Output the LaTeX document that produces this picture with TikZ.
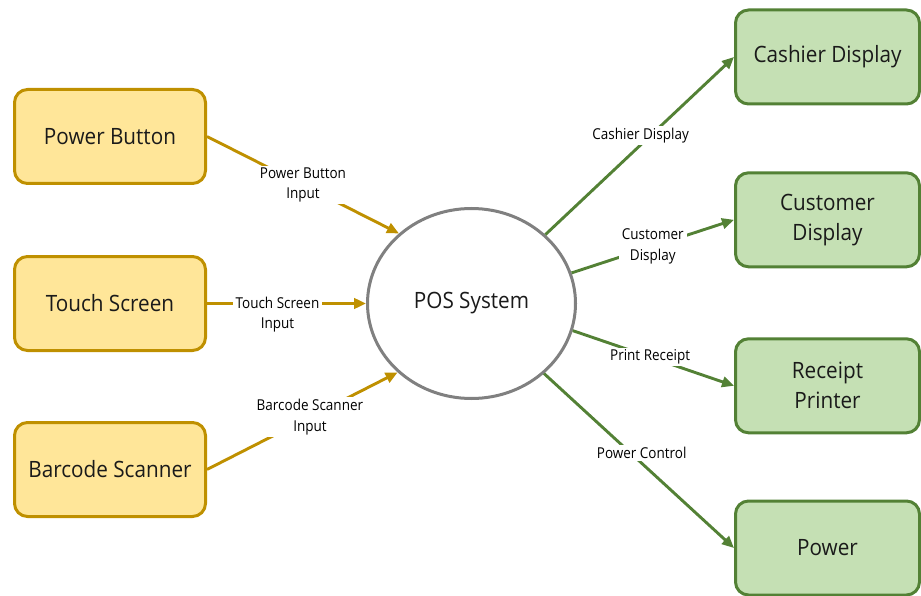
\documentclass[tikz,border=0pt]{standalone}
\usepackage{fontspec}
\setmainfont{Open Sans}
\newfontfamily\boxfont[FakeStretch=0.92]{Open Sans}
\newfontfamily\edgefont[FakeStretch=0.9]{Open Sans}
\usetikzlibrary{arrows.meta,shapes.geometric}

\definecolor{inFill}{HTML}{FFE699}
\definecolor{inLine}{HTML}{BF9000}
\definecolor{outFill}{HTML}{C5E0B4}
\definecolor{outLine}{HTML}{538135}
\definecolor{hubLine}{HTML}{808080}
\definecolor{ink}{HTML}{1A1A1A}

\begin{document}
\begin{tikzpicture}[x=1pt,y=-1pt,
  box/.style={rectangle, rounded corners=13pt, line width=3pt,
    minimum width=191pt, minimum height=94pt, inner sep=0pt,
    align=center, text=ink, font=\boxfont\fontsize{22.5}{30}\selectfont},
  inbox/.style={box, draw=inLine, fill=inFill},
  outbox/.style={box, draw=outLine, fill=outFill, minimum width=184pt},
  hub/.style={ellipse, draw=hubLine, line width=3pt, fill=white,
    minimum width=208pt, minimum height=190pt, inner sep=0pt,
    text=ink, font=\boxfont\fontsize{22.5}{30}\selectfont},
  flow/.style={line width=2.9pt, -{Triangle[length=12pt,width=10.5pt]}},
  inflow/.style={flow, draw=inLine},
  outflow/.style={flow, draw=outLine},
  lbl/.style={fill=white, inner xsep=3pt, inner ysep=2pt, align=center,
    text=black, font=\edgefont\fontsize{15}{20.5}\selectfont}
]
\useasboundingbox (0,0) rectangle (921,596);

% sources
\node[inbox] (pb) at (110,136.5) {Power Button};
\node[inbox] (ts) at (110,303.5) {Touch Screen};
\node[inbox] (bs) at (110,469.5) {Barcode Scanner};

% central process
\node[hub] (pos) at (471.5,303.5) {POS System};

% sinks
\node[outbox] (cd) at (827.5,57)    {Cashier Display};
\node[outbox] (cu) at (827.5,219.8) {Customer\\Display};
\node[outbox] (rp) at (827.5,385.8) {Receipt\\Printer};
\node[outbox] (pw) at (827.5,548)   {Power};

% inputs
\draw[inflow] (pb.east) -- node[lbl] {Power Button\\Input} (pos.136.6);
\draw[inflow] (ts.east) -- node[lbl, pos=0.443, yshift=-11pt] {Touch Screen\\Input} (pos.west);
\draw[inflow] (bs.east) -- node[lbl, pos=0.54] {Barcode Scanner\\Input} (pos.223);

% outputs
\draw[outflow] (pos.43) -- node[lbl, pos=0.505, yshift=9pt] {Cashier Display} (cd.west);
\draw[outflow] (pos.17.9) -- node[lbl] {Customer\\Display} (cu.west);
\draw[outflow] (pos.-15.7) -- node[lbl, pos=0.48] {Print Receipt} (rp.west);
\draw[outflow] (pos.-44.2) -- node[lbl, pos=0.514, yshift=10pt] {Power Control} (pw.west);
\end{tikzpicture}
\end{document}
